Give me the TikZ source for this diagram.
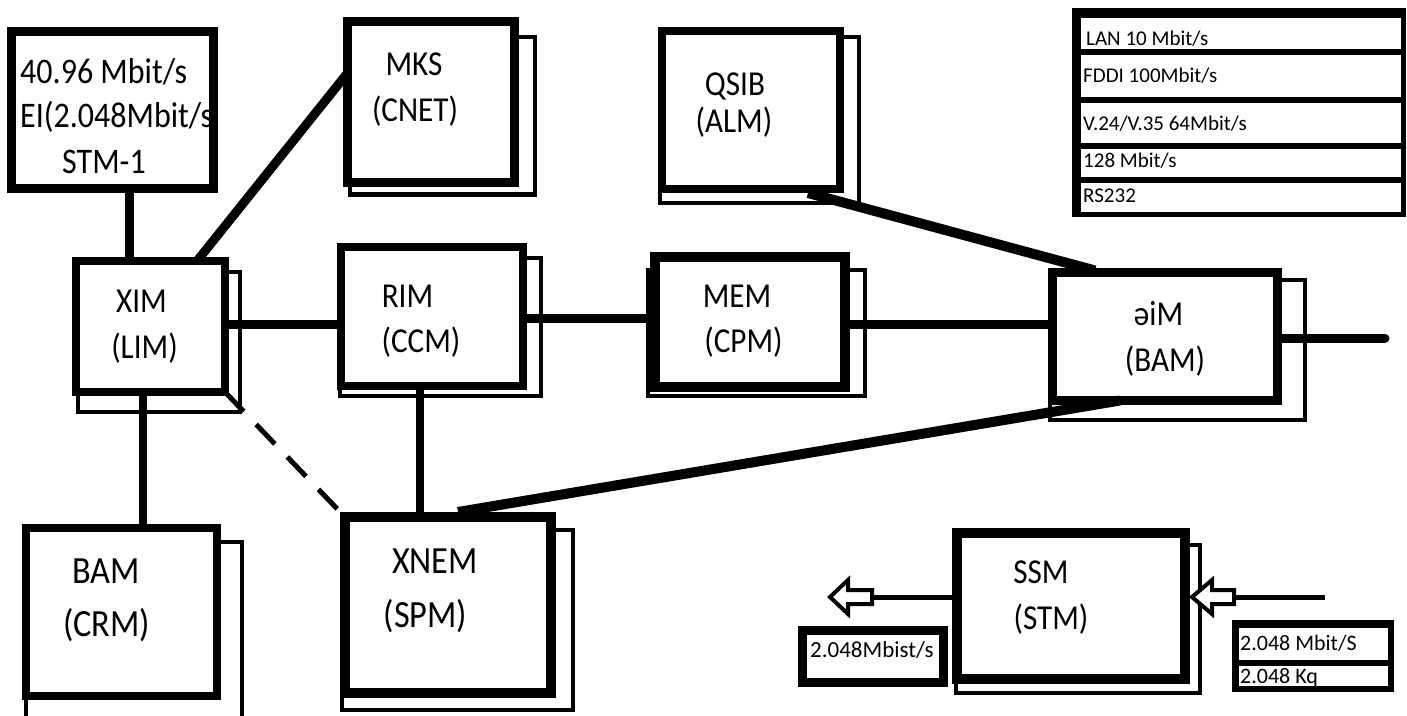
\documentclass[tikz,border=0pt]{standalone}
\usepackage{fontspec}
\setmainfont{Carlito}
\newfontfamily\lblfont[FakeStretch=0.89]{Carlito}
\usetikzlibrary{calc}
\tikzset{
  mod/.style={draw=black, fill=white, line width=#1, rectangle, inner sep=0pt, outer sep=0pt},
  mod/.default=9pt,
  shad/.style={draw=black, line width=4.5pt},
  conn/.style={draw=black, line width=#1},
  conn/.default=9pt,
  lbl/.style={font=\lblfont\fontsize{35}{40}\selectfont, inner sep=0pt, anchor=base},
  lblbig/.style={font=\lblfont\fontsize{38.5}{44}\selectfont, inner sep=0pt, anchor=base},
  tltxt/.style={font=\lblfont\fontsize{36}{40}\selectfont, inner sep=0pt, anchor=base west},
  legtxt/.style={font=\fontsize{21}{24}\selectfont, inner sep=0pt, anchor=base west},
  smalltxt/.style={font=\fontsize{#1}{26}\selectfont, inner sep=0pt, anchor=base west},
  blackbox/.style={fill=black, inner sep=0pt, outer sep=0pt, rectangle},
  whitebox/.style={fill=white, inner sep=0pt, outer sep=0pt, rectangle},
  blockarrow/.style={draw=black, fill=white, line width=4pt, line join=miter}
}
\begin{document}
\begin{tikzpicture}[x=1pt,y=-1pt]
\useasboundingbox (0,0) rectangle (1407,715);
\fill[white] (0,0) rectangle (1407,715);

% shadows
\draw[shad] (350,37) rectangle (535,194.5);
\draw[shad] (660,37) rectangle (859,203);
\draw[shad] (78,272) rectangle (240,412);
\draw[shad] (340,258) rectangle (541,396);
\draw[shad] (648,270) rectangle (865,396);
\draw[shad] (1050,280) rectangle (1305,420);
\draw[shad] (26,542) rectangle (242,740);
\draw[shad] (342,530) rectangle (573,710);
\draw[shad] (956,545) rectangle (1200,693);

% boxes
\node[mod=9pt, minimum width=202pt, minimum height=157pt] (tl) at (112.5,110) {};
\node[mod=9pt, minimum width=166.5pt, minimum height=160.5pt] (mks) at (430.75,101.75) {};
\node[mod=8pt, minimum width=178pt, minimum height=158pt] (qsib) at (751,110) {};
\node[mod=8pt, minimum width=149pt, minimum height=131pt] (xim) at (150.5,326.5) {};
\node[mod=8.5pt, minimum width=182pt, minimum height=139pt] (rim) at (432,316.5) {};
\node[mod=10pt, minimum width=190pt, minimum height=130pt] (mem) at (750,322) {};
\node[mod=9pt, minimum width=225pt, minimum height=128pt] (eim) at (1165,336.5) {};
\node[mod=8.5pt, minimum width=191pt, minimum height=168pt] (bam) at (121.5,612) {};
\node[mod=9.5pt, minimum width=206pt, minimum height=176pt] (xnem) at (448,605) {};
\node[mod=10pt, minimum width=228pt, minimum height=146pt] (ssm) at (1071,606) {};

% legend table
\node[blackbox, minimum width=334pt, minimum height=209pt] (leg) at (1239,112.5) {};
\node[whitebox, minimum width=320pt, minimum height=31pt] (r1) at (1241,33.5) {};
\node[whitebox, minimum width=320pt, minimum height=42pt] (r2) at (1241,76) {};
\node[whitebox, minimum width=320pt, minimum height=40pt] (r3) at (1241,123) {};
\node[whitebox, minimum width=320pt, minimum height=28pt] (r4) at (1241,163) {};
\node[whitebox, minimum width=320pt, minimum height=29pt] (r5) at (1241,197.5) {};
\node[legtxt] (t1) at (1086,45) {LAN 10 Mbit/s};
\node[legtxt] (t2) at (1083,82) {FDDI 100Mbit/s};
\node[legtxt] (t3) at (1083,130) {V.24/V.35 64Mbit/s};
\node[legtxt] (t4) at (1083,167) {128 Mbit/s};
\node[legtxt] (t5) at (1083,202) {RS232};

% output rate box
\node[blackbox, minimum width=150pt, minimum height=61pt] (outbox) at (873,656.5) {};
\node[whitebox, minimum width=132pt, minimum height=43pt] (outin) at (873,656.5) {};
\node[smalltxt=23] (outt) at (810,657) {2.048Mbist/s};

% input rate box
\node[blackbox, minimum width=162pt, minimum height=72pt] (inbox) at (1313,656) {};
\node[whitebox, minimum width=149pt, minimum height=32pt] (in1) at (1313.5,644) {};
\node[whitebox, minimum width=149pt, minimum height=20pt] (in2) at (1313.5,676) {};
\node[smalltxt=22] (int1) at (1240,650) {2.048 Mbit/S};
\node[smalltxt=22] (int2) at (1240,683) {2.048 Kq};

% connectors
\draw[conn] ([xshift=16.5pt]tl.south) -- ([xshift=16.5pt]tl.south |- xim.north);
\draw[conn] ([xshift=46.5pt]xim.north) -- ([yshift=28.75pt]mks.west);
\draw[conn] ([yshift=2.5pt]xim.east) -- ([yshift=2.5pt]xim.east -| rim.west);
\draw[conn] ([yshift=-1.5pt]rim.east) -- ([yshift=-1.5pt]rim.east -| mem.west);
\draw[conn] ([yshift=-2pt]mem.east) -- ([yshift=-2pt]mem.east -| eim.west);
\coordinate (out) at (1385,338);
\draw[conn, line cap=round] (eim.east |- out) -- (out);
\draw[conn=10pt] ([xshift=57pt,yshift=-4pt]qsib.south) -- ([xshift=-70pt,yshift=2pt]eim.north);
\draw[conn=10pt] ([xshift=-45pt]eim.south) -- ([xshift=10pt,yshift=5pt]xnem.north);
\draw[conn=8pt] ([xshift=-12pt]rim.south) -- ([xshift=-12pt]rim.south |- xnem.north);
\draw[conn=8pt] ([xshift=-7.5pt]xim.south) -- ([xshift=-7.5pt]xim.south |- bam.north);
\draw[conn=5pt, dash pattern=on 27pt off 18pt] (xim.south east) -- (xnem.north west);

% SSM arrows
\coordinate (lsh) at (872,597);
\coordinate (ltip) at (830,597);
\draw[conn=5pt] (ssm.west |- lsh) -- (lsh);
\draw[blockarrow] (ltip) -- ++(18,-17) -- ++(0,10) -- ++(24,0) -- ++(0,14) -- ++(-24,0) -- ++(0,10) -- cycle;
\coordinate (rsh) at (1234,597);
\coordinate (rin) at (1325,597);
\coordinate (rtip) at (1192,597);
\draw[conn=5pt] (rsh) -- (rin);
\draw[blockarrow] (rtip) -- ++(20,-17) -- ++(0,10) -- ++(22,0) -- ++(0,14) -- ++(-22,0) -- ++(0,10) -- cycle;

% labels
\begin{scope}
\clip ([shift={(4.5pt,-4.5pt)}]tl.north west) rectangle ([shift={(-4.5pt,4.5pt)}]tl.south east);
\node[tltxt] (tla) at (20,83) {40.96 Mbit/s};
\node[tltxt] (tlb) at (20,127) {EI(2.048Mbit/s};
\node[tltxt] (tlc) at (62,173) {STM-1};
\end{scope}

\node[lbl] (mks1) at (414,75) {MKS};
\node[lbl] (mks2) at (415,121) {(CNET)};
\node[lbl] (qsib1) at (735,95) {QSIB};
\node[lbl] (qsib2) at (734,132) {(ALM)};
\node[lbl] (xim1) at (141.5,312) {XIM};
\node[lbl] (xim2) at (144.5,358) {(LIM)};
\node[lbl] (rim1) at (407.5,307) {RIM};
\node[lbl] (rim2) at (421,352) {(CCM)};
\node[lbl] (mem1) at (737,307) {MEM};
\node[lbl] (mem2) at (743.5,352) {(CPM)};
\node[lbl] (eim1) at (1158.5,325) {əiM};
\node[lbl] (eim2) at (1165,371) {(BAM)};
\node[lblbig] (bam1) at (106,583) {BAM};
\node[lblbig] (bam2) at (106.5,636) {(CRM)};
\node[lblbig] (xnem1) at (435,573) {XNEM};
\node[lblbig] (xnem2) at (425.5,627) {(SPM)};
\node[lbl] (ssm1) at (1041,583) {SSM};
\node[lbl] (ssm2) at (1051,629) {(STM)};
\end{tikzpicture}
\end{document}
